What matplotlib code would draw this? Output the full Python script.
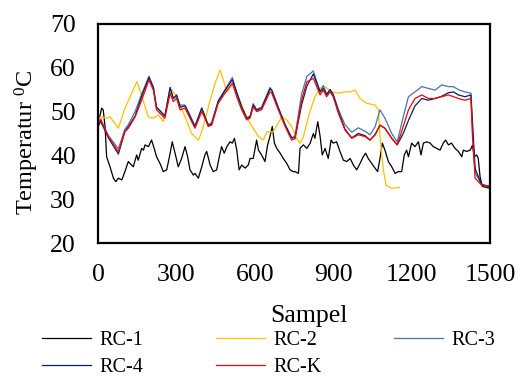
import matplotlib
matplotlib.use("Agg")
import matplotlib.pyplot as plt

plt.rcParams['font.family'] = ['Liberation Serif', 'DejaVu Serif']
plt.rcParams['mathtext.fontset'] = 'custom'
plt.rcParams['mathtext.rm'] = 'Liberation Serif'

# ---- data ----
rc1_x = [0, 4, 14, 20, 27, 33, 46, 59, 68, 78, 91, 103, 116, 122, 135, 148, 154, 167, 174, 180,
         193, 205, 215, 224, 237, 250, 263, 276, 284, 295, 307, 320, 333, 343, 352, 365, 371, 384,
         397, 409, 416, 429, 441, 454, 467, 473, 483, 493, 505, 514, 522, 531, 540, 550, 563, 575,
         582, 594, 607, 614, 626, 639, 649, 658, 667, 675, 684, 697, 709, 722, 735, 747, 754, 767,
         773, 786, 799, 812, 824, 830, 841, 850, 858, 869, 881, 892, 900, 913, 926, 939, 952, 965,
         977, 990, 1003, 1015, 1024, 1034, 1047, 1060, 1070, 1079, 1088, 1098, 1111, 1124, 1137,
         1149, 1162, 1172, 1181, 1188, 1200, 1213, 1226, 1236, 1245, 1258, 1271, 1283, 1296, 1309,
         1321, 1330, 1341, 1353, 1366, 1379, 1392, 1398, 1411, 1424, 1433, 1440, 1449, 1455, 1462,
         1471, 1500]
rc1_y = [46.5, 48.1, 50.8, 50.4, 46.6, 39.7, 37.4, 34.8, 34.0, 34.8, 34.4, 36.3, 38.6, 38.2, 37.4,
         40.1, 38.9, 41.6, 41.2, 42.4, 42.0, 43.5, 41.6, 39.7, 38.2, 36.3, 36.7, 40.5, 43.1, 40.5,
         37.4, 39.3, 42.0, 39.7, 36.7, 35.5, 35.9, 34.8, 37.4, 40.1, 40.9, 37.8, 36.3, 36.7, 40.5,
         42.0, 40.5, 42.0, 43.1, 42.8, 43.9, 41.2, 36.7, 37.8, 37.1, 37.8, 39.3, 39.3, 43.5, 41.2,
         40.1, 38.6, 42.4, 44.3, 46.6, 42.8, 41.6, 40.5, 39.3, 38.2, 36.7, 36.3, 36.3, 35.9, 41.6,
         42.4, 41.6, 42.8, 45.0, 43.9, 47.7, 44.3, 40.1, 41.6, 39.3, 43.5, 42.8, 43.1, 40.9, 38.9,
         38.6, 39.3, 37.8, 36.7, 38.2, 39.7, 40.5, 39.3, 38.2, 37.1, 36.3, 39.3, 42.8, 41.2, 38.6,
         37.4, 35.9, 36.3, 36.3, 40.1, 41.2, 39.7, 42.8, 42.0, 43.1, 40.1, 42.8, 43.1, 42.8, 42.0,
         41.6, 41.2, 42.8, 43.5, 42.4, 42.8, 41.6, 40.9, 39.7, 41.2, 40.9, 41.2, 42.3, 39.7, 40.1,
         39.3, 35.1, 32.9, 32.5]

rc2_x = [0, 8, 33, 46, 78, 103, 129, 148, 154, 174, 193, 212, 231, 250, 269, 282, 301, 333, 358,
         384, 390, 403, 429, 448, 467, 480, 493, 518, 537, 563, 582, 614, 633, 646, 671, 703, 722,
         741, 760, 773, 786, 805, 830, 850, 869, 894, 920, 945, 965, 984, 1003, 1028, 1060, 1073,
         1079, 1092, 1102, 1124, 1153]
rc2_y = [47.5, 48.8, 48.5, 48.8, 46.2, 50.8, 54.2, 56.8, 56.1, 52.3, 48.8, 48.5, 49.2, 47.7, 52.6,
         54.9, 53.4, 48.8, 45.0, 43.5, 44.3, 46.6, 52.6, 56.5, 59.5, 57.2, 54.5, 56.5, 53.4, 49.6,
         47.3, 44.3, 43.5, 45.4, 45.4, 48.8, 48.1, 46.6, 43.9, 42.8, 44.3, 48.8, 53.4, 55.3, 55.7,
         54.5, 54.2, 54.5, 54.5, 54.9, 53.0, 51.9, 51.5, 50.4, 44.3, 36.7, 33.2, 32.5, 32.7]

sample = [0, 10, 40, 78, 103, 116, 142, 167, 195, 212, 224, 256, 276, 288, 301, 314, 333, 371, 397,
          409, 422, 435, 460, 486, 514, 530, 550, 569, 582, 594, 607, 626, 658, 665, 690, 716, 741,
          754, 779, 799, 824, 850, 862, 875, 888, 900, 920, 945, 971, 996, 1022, 1041, 1060, 1079,
          1098, 1124, 1145, 1168, 1188, 1213, 1239, 1264, 1290, 1315, 1341, 1360, 1379, 1404, 1427,
          1433, 1443, 1468, 1500]
rc3_y = [46.5, 48.0, 44.5, 41.5, 46.0, 47.0, 50.0, 54.0, 58.1, 55.5, 51.0, 49.0, 55.5, 53.0, 53.5,
         51.5, 51.5, 46.8, 50.8, 49.0, 47.0, 47.5, 52.5, 55.0, 57.8, 54.5, 51.0, 48.5, 49.0, 51.8,
         50.5, 51.0, 55.5, 55.0, 51.0, 47.0, 44.0, 44.5, 54.0, 58.0, 59.3, 54.5, 56.0, 54.0, 55.0,
         54.0, 50.5, 47.0, 45.3, 46.3, 45.5, 44.7, 46.5, 50.4, 48.5, 45.0, 43.1, 48.8, 53.4, 54.5,
         55.7, 55.3, 54.9, 56.1, 55.7, 55.7, 55.0, 54.5, 54.2, 46.0, 36.0, 33.4, 32.9]
rc4_y = [46.5, 47.8, 44.0, 40.3, 45.5, 46.5, 49.0, 53.5, 57.8, 55.5, 51.0, 49.0, 55.5, 53.0, 53.8,
         51.0, 51.3, 46.5, 50.8, 48.8, 46.8, 47.2, 52.3, 54.8, 57.3, 54.5, 51.0, 48.5, 48.8, 51.5,
         50.3, 50.8, 55.2, 54.8, 50.8, 47.0, 44.0, 44.0, 51.5, 55.8, 58.6, 54.5, 55.3, 53.8, 55.0,
         53.8, 50.0, 46.0, 44.0, 45.0, 44.5, 43.5, 44.7, 46.9, 46.2, 43.9, 42.4, 45.0, 48.0, 51.3,
         53.0, 52.6, 53.0, 53.5, 54.3, 54.5, 53.8, 53.4, 53.8, 47.5, 37.0, 33.3, 32.9]
rck_y = [47.0, 48.3, 44.3, 40.8, 45.4, 46.2, 48.8, 52.6, 57.2, 54.9, 50.4, 48.5, 54.2, 52.3, 53.0,
         50.4, 50.8, 46.2, 50.0, 48.5, 46.6, 46.9, 51.9, 54.2, 56.5, 53.5, 50.4, 48.1, 48.5, 51.1,
         50.0, 50.4, 54.5, 54.2, 50.4, 46.6, 43.5, 43.8, 52.6, 56.8, 57.6, 53.8, 54.9, 53.4, 54.5,
         53.4, 49.6, 45.8, 43.9, 44.7, 44.3, 43.5, 44.7, 46.9, 46.2, 43.9, 42.4, 46.6, 50.4, 53.0,
         53.8, 53.0, 53.0, 53.4, 53.8, 53.4, 53.0, 52.6, 53.0, 44.3, 34.8, 33.2, 32.9]

labels = ['RC-1', 'RC-2', 'RC-3', 'RC-4', 'RC-K']
colors = ['#000000', '#FFC000', '#4A72B0', '#002060', '#FF0000']
xticks = [0, 300, 600, 900, 1200, 1500]
yticks = [20, 30, 40, 50, 60, 70]

fig = plt.figure(figsize=(5.21, 3.78), dpi=100)
ax = fig.add_axes([98/521, 1-243/378, 392/521, 219/378])

lw = 0.9
h1, = ax.plot(rc1_x, rc1_y, color=colors[0], lw=lw, label=labels[0])
h2, = ax.plot(rc2_x, rc2_y, color=colors[1], lw=lw, label=labels[1])
h3, = ax.plot(sample, rc3_y, color=colors[2], lw=lw, label=labels[2])
h4, = ax.plot(sample, rc4_y, color=colors[3], lw=lw, label=labels[3])
h5, = ax.plot(sample, rck_y, color=colors[4], lw=lw, label=labels[4])

ax.set_xlim(0, 1500)
ax.set_ylim(20, 70)
ax.set_xticks(xticks)
ax.set_yticks(yticks)
ax.tick_params(axis='both', length=0, labelsize=18.5)
ax.tick_params(axis='x', pad=15)
ax.tick_params(axis='y', pad=16)
for sp in ax.spines.values():
    sp.set_linewidth(1.6)
    sp.set_color('black')

ax.set_xlabel('Sampel', fontsize=18.5)
ax.xaxis.set_label_coords((309-98)/392, -(316-243)/219)
ax.xaxis.label.set_va('center')
ax.set_ylabel(r'Temperatur $\mathregular{^0}$C', fontsize=17.5)
ax.yaxis.set_label_coords(-(98-27)/392, 1-(142-24)/219)
ax.yaxis.label.set_va('center')

leg = fig.legend([h1, h4, h2, h5, h3], ['RC-1', 'RC-4', 'RC-2', 'RC-K', 'RC-3'],
                 ncol=3, loc='upper left', bbox_to_anchor=(42/521, 1-331/378),
                 frameon=False, fontsize=14.5, handlelength=2.45, handletextpad=0.4,
                 columnspacing=3.6, labelspacing=0.38, borderpad=0, borderaxespad=0)

fig.savefig('out.png', dpi=100)
